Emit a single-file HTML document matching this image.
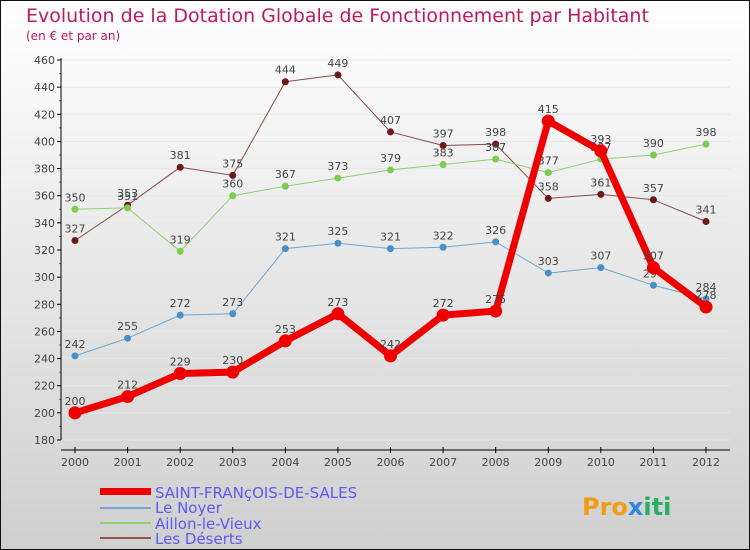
<!DOCTYPE html>
<html><head><meta charset="utf-8"><style>
body{margin:0;}
svg{display:block;font-family:"DejaVu Sans","Liberation Sans",sans-serif;}
</style></head><body>
<svg width="750" height="550" viewBox="0 0 750 550">
<defs><linearGradient id="bg" x1="0" y1="0" x2="0" y2="1"><stop offset="0" stop-color="#ffffff"/><stop offset="1" stop-color="#cfcfcf"/></linearGradient></defs>
<rect x="0.5" y="0.5" width="749" height="549" fill="url(#bg)" stroke="#111"/>
<text x="26" y="22" font-size="19" fill="#c2185b">Evolution de la Dotation Globale de Fonctionnement par Habitant</text>
<text x="26" y="40" font-size="12" fill="#c2185b">(en € et par an)</text>
<g id="grid"></g><g id="axes"></g><g id="series"></g>
<g>
<rect x="100" y="488" width="51" height="7" fill="#e00"/>
<text x="155" y="498" font-size="15" fill="#5b5bf0">SAINT-FRANçOIS-DE-SALES</text>
<rect x="100" y="507" width="51" height="2" fill="#6fa8d0"/>
<text x="155" y="513" font-size="15" fill="#5b5bf0">Le Noyer</text>
<rect x="100" y="522" width="51" height="2" fill="#8fd070"/>
<text x="155" y="529" font-size="15" fill="#5b5bf0">Aillon-le-Vieux</text>
<rect x="100" y="537" width="51" height="2" fill="#9a5050"/>
<text x="155" y="544" font-size="15" fill="#5b5bf0">Les Déserts</text>
</g>
<g><text x="582" y="515" font-size="24" font-weight="bold" fill="#f39c12">Pro<tspan fill="#2e86de">x</tspan><tspan fill="#27ae60">iti</tspan></text></g>
</svg>
<script>
const years=[2000,2001,2002,2003,2004,2005,2006,2007,2008,2009,2010,2011,2012];
const yTicks=[180,200,220,240,260,280,300,320,340,360,380,400,420,440,460];
const sfds=[200,212,229,230,253,273,242,272,275,415,393,307,278];
const noyer=[242,255,272,273,321,325,321,322,326,303,307,294,284];
const aillon=[350,351,319,360,367,373,379,383,387,377,387,390,398];
const deserts=[327,353,381,375,444,449,407,397,398,358,361,357,341];
const NS="http://www.w3.org/2000/svg";
function X(i){return 75+i*(706-75)/(years.length-1);}
function Y(v){return 440-(v-180)*(380/280);}
function mk(t,a,p){const e=document.createElementNS(NS,t);for(const k in a)e.setAttribute(k,a[k]);p.appendChild(e);return e;}
const axes=document.getElementById('axes'),grid=document.getElementById('grid'),ser=document.getElementById('series');
yTicks.forEach(v=>{
 const g=mk('line',{x1:61,x2:730,y1:Y(v),y2:Y(v),stroke:'#e6e6e6','stroke-width':1},grid);
 
 
 mk('line',{x1:57,x2:61,y1:Y(v),y2:Y(v),stroke:'#000'},axes);
 if(v<460) mk('line',{x1:59,x2:61,y1:Y(v+10),y2:Y(v+10),stroke:'#e33'},axes);
 const t=mk('text',{x:55,y:Y(v)+4,'text-anchor':'end','font-size':11,fill:'#444'},axes);t.textContent=v;
 
 
});
mk('line',{x1:61,x2:61,y1:58,y2:440,stroke:'#000'},axes);
mk('line',{x1:61,x2:730,y1:450,y2:450,stroke:'#000'},axes);
years.forEach((y,i)=>{
 mk('line',{x1:X(i),x2:X(i),y1:447,y2:453,stroke:'#000'},axes);
 const t=mk('text',{x:X(i),y:466,'text-anchor':'middle','font-size':11,fill:'#444'},axes);t.textContent=y;
 
 
});
function draw(vals,color,dot,w,r,name){
 const g=mk('g',{},ser);
 
 
 mk('polyline',{points:vals.map((v,i)=>X(i)+','+Y(v)).join(' '),fill:'none',stroke:color,'stroke-width':w,'stroke-linejoin':'round'},g);
 vals.forEach((v,i)=>{
  const c=mk('circle',{cx:X(i),cy:Y(v),r:r,fill:dot},g);
  
  
  const t=mk('text',{x:X(i),y:Y(v)-8,'text-anchor':'middle','font-size':11,fill:'#444'},g);t.textContent=v;
  
  
 });
}
draw(deserts,'#8a4a4a','#6b1a1a',1,3.5,'series-les-deserts');
draw(aillon,'#8fd070','#7ccc50',1,3.5,'series-aillon-le-vieux');
draw(noyer,'#6fa8d0','#4a90c8',1,3.5,'series-le-noyer');
draw(sfds,'#ee0000','#ee0000',7,6.5,'series-saint-francois-de-sales');
</script>
</body></html>
